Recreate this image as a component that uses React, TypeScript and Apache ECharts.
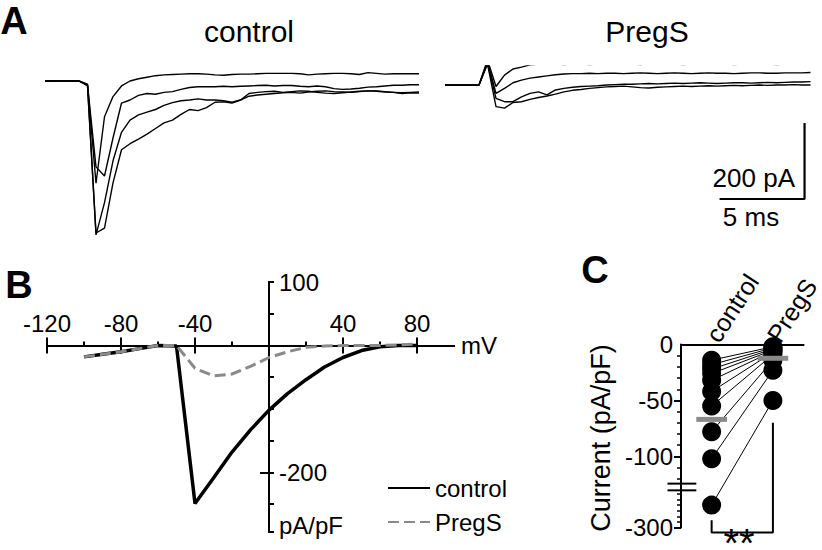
import React, { useEffect, useRef } from 'react';
import * as echarts from 'echarts';

const FONT = "'Liberation Sans', Arial, Helvetica, sans-serif";
const BLACK = '#000000';
const GRAY = '#8a8a8a';

// ---------- Panel A: example current traces (pA), sampled every 0.5 ms ----------
const traceStepMs = 0.5;
const controlTrace1 = [0, 1, -1, 0, 0, -8, -269, -94, -41, -13, 0, 6, 10, 14, 16, 17, 18, 19, 19, 18, 16, 15, 17, 18, 18, 19, 20, 20, 20, 20, 19, 16, 18, 19, 20, 20, 19, 17, 22, 20, 18, 19, 19, 19, 19];
const controlTrace2 = [0, 0, -1, 0, 0, -10, -226, -250, -150, -58, -50, -38, -33, -35, -30, -28, -22, -17, -15, -15, -15, -14, -15, -14, -13, -12, -11, -13, -12, -12, -14, -15, -13, -15, -20, -22, -21, -19, -16, -15, -13, -11, -11, -10, -10];
const controlTrace3 = [0, -1, 0, 0, 0, -12, -405, -320, -210, -135, -103, -89, -82, -75, -64, -57, -52, -50, -47, -50, -50, -52, -56, -50, -40, -37, -35, -33, -31, -30, -32, -29, -27, -26, -28, -29, -30, -28, -26, -27, -29, -30, -31, -30, -29];
const controlTrace4 = [0, 0, 1, 0, 0, -12, -400, -387, -268, -181, -165, -153, -140, -125, -110, -103, -88, -75, -78, -70, -56, -55, -58, -50, -33, -30, -28, -27, -30, -28, -26, -27, -30, -32, -33, -31, -29, -27, -26, -26, -28, -30, -33, -31, -32];
const pregsTrace1 = [0, -1, 0, -1, 0, 66, -4, 26, 42, 47, 53, 55, 56, 55, 54, 55, 55, 54, 55, 55, 56, 55, 55, 54, 56, 57, 55, 55, 54, 55, 57, 55, 55, 56, 54, 55, 56, 55, 55, 54, 55, 55, 56, 56];
const pregsTrace2 = [0, 0, -1, 0, 0, 62, -22, -9, 6, 13, 18, 21, 24, 27, 29, 30, 30, 31, 30, 31, 31, 30, 31, 32, 31, 30, 31, 32, 31, 30, 31, 32, 31, 31, 30, 31, 32, 32, 31, 31, 32, 32, 32, 33];
const pregsTrace3 = [0, -1, 0, 0, 0, 58, -35, -44, -44, -31, -22, -18, -26, -13, -9, -6, -4, -3, -2, 0, 1, 2, 2, 3, 4, 3, 4, 5, 4, 5, 6, 5, 4, 5, 6, 6, 5, 6, 7, 6, 7, 8, 8, 9];
const pregsTrace4 = [0, 0, 0, -1, 0, 55, -57, -61, -46, -44, -38, -33, -29, -24, -18, -14, -12, -9, -7, -5, -4, -3, -5, -7, -8, -6, -5, -4, -3, -4, -3, -2, -3, -2, -1, -2, -1, 0, -1, 0, 0, 1, 0, 0];
// scale bar: 5 ms x 200 pA (in PregS trace coordinates)
const scaleBarMs = [16.15, 21.15, 21.15];
const scaleBarPa = [-300, -300, -100];

// ---------- Panel B: current-voltage relation ----------
const ivVoltages = [-100, -90, -80, -70, -60, -50, -40, -30, -20, -10, 0, 10, 20, 30, 40, 50, 60, 70, 80];
const ivControl = [-18, -14, -10, -5, 0, -1, -249, -209, -168, -133, -102, -76, -54, -34, -19, -8, -2, 0, 0];
const ivPregS = [-18, -14, -10, -5, 0, 0, -36, -48, -45, -33, -19, -10, -3, -1, 0, 0, 0, 1, 2];
const bXRange = [-120, 100];
const bYRange = [-294, 100];
const bXMajorTicks = [-120, -80, -40, 0, 40, 80];
const bXLabels = [-120, -80, -40, 40, 80];
const bXMinorTicks = [-100, -60, -20, 20, 60];
const bYTicks = [100, 50, -50, -100, -150, -200, -250, -294];
const bYLabels = [100, -200, -294];

// ---------- Panel C: paired current density (pA/pF) ----------
const cCategories = ['control', 'PregS'];
const cControl = [-14, -18, -22, -26, -32, -42, -55, -78, -102, -280];
const cPregS = [-2, -3, -4, -5, -6, -7, -9, -14, -23, -50];
const cMajorLabels = [0, -50, -100, -300];
const cMinorTicks = [-10, -20, -30, -40, -60, -70, -80, -90, -110, -120, -270, -275, -280, -285, -290, -295];
const C_BREAK_TOP = -125;
const C_BREAK_BOTTOM = -267;
const C_BREAK_GAP = 5.5;
const C_AXIS_MIN = -300;

const toD = (v: number) => (v >= C_BREAK_TOP ? v : v - C_BREAK_BOTTOM + C_BREAK_TOP - C_BREAK_GAP);
const fromD = (d: number) => (d >= C_BREAK_TOP - C_BREAK_GAP / 2 ? d : d + C_BREAK_BOTTOM - C_BREAK_TOP + C_BREAK_GAP);
const mean = (a: number[]) => a.reduce((s, v) => s + v, 0) / a.length;

// layout of panel B plot area
const B_LEFT = 47, B_TOP = 282, B_W = 407, B_H = 250;

function textEl(t: string, x: number, y: number, size: number, extra: any = {}) {
  return {
    type: 'text', x, y, silent: true,
    style: { text: t, fontFamily: FONT, fontSize: size, fill: BLACK, align: 'center', verticalAlign: 'middle', ...(extra.style || {}) },
    ...(extra.rotation != null ? { rotation: extra.rotation } : {}),
  };
}

const baseGraphic = () => [
  textEl('A', 14, 21, 38, { style: { fontWeight: 'bold' } }),
  textEl('control', 249, 31, 30),
  textEl('PregS', 647, 31, 30),
  textEl('200 pA', 795, 178, 26, { style: { align: 'right' } }),
  textEl('5 ms', 751, 217, 26),
  textEl('B', 19, 285, 38, { style: { fontWeight: 'bold' } }),
  textEl('C', 595, 270, 38, { style: { fontWeight: 'bold' } }),
  textEl('Current (pA/pF)', 601, 438, 27, { rotation: Math.PI / 2 }),
  textEl('**', 739, 543, 40, { style: { lineHeight: 10 } }),
];

let cScatterSeriesIndex = 0;

function buildOption(): any {
  const traceData = (arr: number[]) => arr.map((v, i) => [i * traceStepMs, v]);
  const thin = { color: BLACK, width: 1.4 };
  const axLine = { color: BLACK, width: 2 };
  const labelStyle = { fontFamily: FONT, fontSize: 24, color: BLACK };

  // positions of panel B's zero lines (where its axes cross)
  const bZeroX = B_LEFT + (B_W * (0 - bXRange[0])) / (bXRange[1] - bXRange[0]);
  const bZeroY = B_TOP + (B_H * (bYRange[1] - 0)) / (bYRange[1] - bYRange[0]);

  const series: any[] = [];
  [controlTrace1, controlTrace2, controlTrace3, controlTrace4].forEach((t, i) =>
    series.push({ type: 'line', name: 'ctl-trace-' + i, xAxisIndex: 0, yAxisIndex: 0, data: traceData(t), symbol: 'none', lineStyle: thin, silent: true })
  );
  [pregsTrace1, pregsTrace2, pregsTrace3, pregsTrace4].forEach((t, i) =>
    series.push({ type: 'line', name: 'preg-trace-' + i, xAxisIndex: 1, yAxisIndex: 1, data: traceData(t), symbol: 'none', lineStyle: thin, silent: true })
  );
  series.push({
    type: 'line', name: 'scalebar', xAxisIndex: 1, yAxisIndex: 1,
    data: scaleBarMs.map((t, i) => [t, scaleBarPa[i]]), symbol: 'none', clip: false,
    lineStyle: { color: BLACK, width: 2.2 }, silent: true,
  });

  // Panel B
  series.push({
    type: 'line', name: 'control', xAxisIndex: 2, yAxisIndex: 2,
    data: ivVoltages.map((v, i) => [v, ivControl[i]]), symbol: 'none', showSymbol: false,
    lineStyle: { color: BLACK, width: 3.5 }, itemStyle: { color: BLACK }, z: 3,
  });
  series.push({
    type: 'line', name: 'PregS', xAxisIndex: 2, yAxisIndex: 2,
    data: ivVoltages.map((v, i) => [v, ivPregS[i]]), symbol: 'none', showSymbol: false,
    lineStyle: { color: GRAY, width: 3, type: [11, 5] }, itemStyle: { color: GRAY }, z: 4,
  });

  // Panel C
  cControl.forEach((c, i) =>
    series.push({
      type: 'line', name: 'pair-' + i, xAxisIndex: 4, yAxisIndex: 3,
      data: [[0.5, toD(c)], [1.5, toD(cPregS[i])]], symbol: 'none',
      lineStyle: { color: BLACK, width: 1 }, z: 2, silent: true,
    })
  );
  cScatterSeriesIndex = series.length;
  series.push({
    type: 'scatter', name: 'c-control', xAxisIndex: 4, yAxisIndex: 3,
    data: cControl.map((v) => [0.5, toD(v)]), symbolSize: 19, itemStyle: { color: BLACK, opacity: 1 }, z: 3, silent: true,
  });
  series.push({
    type: 'scatter', name: 'c-pregs', xAxisIndex: 4, yAxisIndex: 3,
    data: cPregS.map((v) => [1.5, toD(v)]), symbolSize: 19, itemStyle: { color: BLACK, opacity: 1 }, z: 3, silent: true,
  });
  const mc = mean(cControl);
  const mp = mean(cPregS);
  series.push({
    type: 'line', name: 'mean-control', xAxisIndex: 4, yAxisIndex: 3,
    data: [[0.25, toD(mc)], [0.75, toD(mc)]], symbol: 'none', lineStyle: { color: GRAY, width: 5 }, z: 5, silent: true,
  });
  series.push({
    type: 'line', name: 'mean-pregs', xAxisIndex: 4, yAxisIndex: 3,
    data: [[1.25, toD(mp)], [1.75, toD(mp)]], symbol: 'none', lineStyle: { color: GRAY, width: 5 }, z: 5, silent: true,
  });
  // significance bracket (display units)
  series.push({
    type: 'line', name: 'bracket', xAxisIndex: 4, yAxisIndex: 3, clip: false,
    data: [[0.5, -157], [0.5, -168], [1.5, -168], [1.5, -70]], symbol: 'none',
    lineStyle: { color: BLACK, width: 2 }, z: 2, silent: true,
  });

  const hidden = (grid: number, min: number, max: number) => ({
    type: 'value', gridIndex: grid, min, max, show: false, axisLine: { onZero: false }, splitLine: { show: false },
  });
  const off = { show: false };

  return {
    animation: false,
    backgroundColor: '#ffffff',
    textStyle: { fontFamily: FONT },
    grid: [
      { left: 45, top: 62, width: 374, height: 190 },
      { left: 445, top: 66, width: 374, height: 190 },
      { left: B_LEFT, top: B_TOP, width: B_W, height: B_H },
      { left: 681, top: 344.5, width: 126, height: 183 },
      // carrier of panel B's x axis (top edge on the zero current line)
      { left: B_LEFT, top: bZeroY, width: B_W, height: 60 },
      // carrier of panel B's y axis (left edge on the zero voltage line)
      { left: bZeroX, top: B_TOP, width: 100, height: B_H },
    ],
    xAxis: [
      hidden(0, 0, 22),
      hidden(1, 0, 22),
      hidden(2, bXRange[0], bXRange[1]),
      {
        type: 'category', gridIndex: 3, data: cCategories, position: 'top',
        axisLine: { show: true, onZero: false, lineStyle: axLine },
        axisTick: { show: false },
        axisLabel: { rotate: -57, margin: 5, interval: 0, ...labelStyle, fontSize: 25, padding: [0, 0, 12, 0] },
        splitLine: off,
      },
      hidden(3, 0, 2),
      {
        type: 'value', gridIndex: 4, min: bXRange[0], max: bXRange[1], position: 'top',
        axisLine: { show: true, onZero: false, lineStyle: axLine },
        axisTick: { show: true, inside: true, length: 8, customValues: bXMajorTicks, lineStyle: axLine },
        axisLabel: off, splitLine: off,
      },
      {
        type: 'value', gridIndex: 4, min: bXRange[0], max: bXRange[1], position: 'top',
        axisLine: { show: true, onZero: false, lineStyle: axLine },
        axisTick: { show: true, inside: false, length: 8, customValues: bXMajorTicks, lineStyle: axLine },
        axisLabel: { show: true, customValues: bXLabels, margin: 10, ...labelStyle },
        splitLine: off,
        name: 'mV', nameLocation: 'end', nameGap: 7, nameTextStyle: { ...labelStyle },
      },
      {
        type: 'value', gridIndex: 4, min: bXRange[0], max: bXRange[1], position: 'top',
        axisLine: { show: true, onZero: false, lineStyle: axLine },
        axisTick: { show: true, inside: false, length: 4, customValues: bXMinorTicks, lineStyle: axLine },
        axisLabel: off, splitLine: off,
      },
      hidden(5, 0, 1),
    ],
    yAxis: [
      hidden(0, -450, 50),
      hidden(1, -450, 50),
      hidden(2, bYRange[0], bYRange[1]),
      {
        type: 'value', gridIndex: 3, min: toD(C_AXIS_MIN), max: 0, position: 'left',
        axisLine: { show: true, onZero: false, lineStyle: axLine },
        axisTick: { show: true, length: 7, customValues: cMajorLabels.filter((v) => v !== 0).map(toD), lineStyle: axLine },
        axisLabel: {
          show: true, margin: 8, customValues: cMajorLabels.map(toD), ...labelStyle,
          formatter: (d: number) => String(Math.round(fromD(d))),
        },
        splitLine: off,
      },
      {
        type: 'value', gridIndex: 3, min: toD(C_AXIS_MIN), max: 0, position: 'left',
        axisLine: { show: false, onZero: false },
        axisTick: { show: true, length: 4, customValues: cMinorTicks.map(toD), lineStyle: { color: BLACK, width: 1.5 } },
        axisLabel: off, splitLine: off,
      },
      hidden(4, 0, 1),
      {
        type: 'value', gridIndex: 5, min: bYRange[0], max: bYRange[1], position: 'left',
        axisLine: { show: true, onZero: false, lineStyle: axLine },
        axisTick: { show: true, inside: true, length: 5, customValues: bYTicks, lineStyle: axLine },
        axisLabel: {
          show: true, inside: true, margin: 10, customValues: bYLabels, ...labelStyle,
          formatter: (v: number) => (v <= -290 ? '{u|pA/pF}' : String(v)),
          rich: { u: { ...labelStyle, padding: [0, 0, 14, 0] } },
        },
        splitLine: off,
      },
      {
        type: 'value', gridIndex: 5, min: bYRange[0], max: bYRange[1], position: 'left',
        axisLine: { show: true, onZero: false, lineStyle: axLine },
        axisTick: { show: true, inside: false, length: 9, customValues: [-200], lineStyle: axLine },
        axisLabel: off, splitLine: off,
      },
    ],
    legend: {
      data: ['control', 'PregS'], orient: 'vertical', left: 387, top: 476,
      itemWidth: 42, itemHeight: 14, itemGap: 10, padding: 0, selectedMode: false,
      itemStyle: { opacity: 0, borderWidth: 0 },
      textStyle: { ...labelStyle },
    },
    series,
    graphic: baseGraphic(),
  };
}

export default function App() {
  const ref = useRef<HTMLDivElement>(null);
  useEffect(() => {
    if (!ref.current) return;
    const chart = echarts.init(ref.current, null, { renderer: 'svg' });
    chart.setOption(buildOption());
    // axis-break marks of panel C, placed through the panel's own scales
    const breaks = [toD(C_BREAK_TOP) + 0.7, toD(C_BREAK_BOTTOM) + 0.2];
    const marks = breaks.map((d) => {
      const a = chart.convertToPixel({ seriesIndex: cScatterSeriesIndex }, [-0.22, d]) as number[];
      const b = chart.convertToPixel({ seriesIndex: cScatterSeriesIndex }, [0.25, d]) as number[];
      return {
        type: 'line', silent: true, z: 100,
        shape: { x1: a[0], y1: a[1], x2: b[0], y2: b[1] },
        style: { stroke: BLACK, lineWidth: 2 },
      };
    });
    chart.setOption({ graphic: [...baseGraphic(), ...marks] });
    return () => chart.dispose();
  }, []);
  return (
    <div
      ref={ref}
      style={{ position: 'fixed', left: 0, top: 0, width: 822, height: 550, background: '#ffffff' }}
    />
  );
}
